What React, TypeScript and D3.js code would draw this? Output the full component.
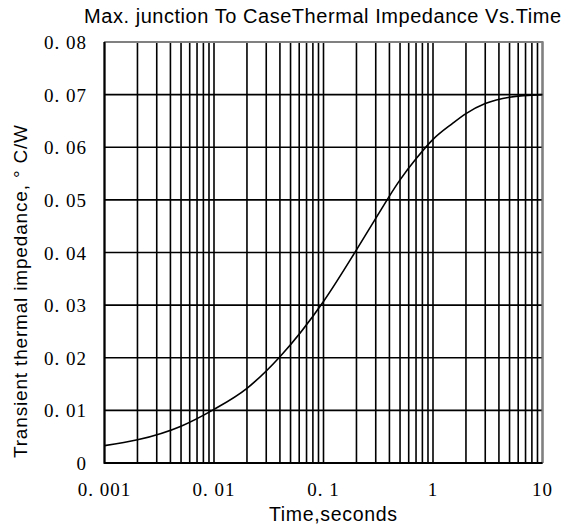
import React, { useRef, useEffect } from "react";
import * as d3 from "d3";

// curve: time (s) vs impedance (°C/W)
const times = [0.001, 0.002, 0.005, 0.01, 0.02, 0.04, 0.1, 0.2, 0.3, 0.5, 0.7, 1, 1.5, 2, 3, 5, 10];
const impedance = [0.0033, 0.0044, 0.007, 0.0102, 0.0142, 0.0202, 0.0307, 0.0405, 0.0465, 0.0538, 0.0578, 0.0615, 0.0645, 0.0664, 0.0683, 0.0695, 0.07];

const xTicks = [0.001, 0.01, 0.1, 1, 10];
const xTickLabels = ["0. 001", "0. 01", "0. 1", "1", "10"];
const yTicks = [0, 0.01, 0.02, 0.03, 0.04, 0.05, 0.06, 0.07, 0.08];
const yTickLabels = ["0", "0. 01", "0. 02", "0. 03", "0. 04", "0. 05", "0. 06", "0. 07", "0. 08"];

const App = () => {
  const svgRef = useRef(null);

  useEffect(() => {
    const svg = d3.select(svgRef.current);
    svg.selectAll("*").remove();

    const width = 564;
    const height = 532;
    const margin = { top: 42, right: 21.5, bottom: 69, left: 104.5 };

    const x = d3.scaleLog().domain([0.001, 10]).range([margin.left, width - margin.right]);
    const y = d3.scaleLinear().domain([0, 0.08]).range([height - margin.bottom, margin.top]);

    // vertical grid: 1..9 in each decade
    const vLines = [];
    for (let e = -3; e < 1; e++) {
      for (let k = 1; k < 10; k++) vLines.push(k * Math.pow(10, e));
    }
    vLines.push(10);

    const grid = svg.append("g").attr("stroke", "#000").attr("stroke-width", 1.6);
    grid
      .selectAll("line.v")
      .data(vLines)
      .enter()
      .append("line")
      .attr("x1", (d) => x(d))
      .attr("x2", (d) => x(d))
      .attr("y1", y(0))
      .attr("y2", y(0.08));
    grid
      .selectAll("line.h")
      .data(yTicks)
      .enter()
      .append("line")
      .attr("x1", x(0.001))
      .attr("x2", x(10))
      .attr("y1", (d) => y(d))
      .attr("y2", (d) => y(d));

    // frame: top and right grey, left and bottom black
    svg
      .append("path")
      .attr("d", `M${x(0.001)},${y(0.08)}H${x(10)}V${y(0)}`)
      .attr("fill", "none")
      .attr("stroke", "#808080")
      .attr("stroke-width", 2);
    svg
      .append("path")
      .attr("d", `M${x(0.001)},${y(0.08)}V${y(0)}H${x(10)}`)
      .attr("fill", "none")
      .attr("stroke", "#000")
      .attr("stroke-width", 2);

    // curve
    const pts = times.map((t, i) => [t, impedance[i]]);
    const line = d3
      .line()
      .x((d) => x(d[0]))
      .y((d) => y(d[1]))
      .curve(d3.curveMonotoneX);
    svg
      .append("path")
      .datum(pts)
      .attr("d", line)
      .attr("fill", "none")
      .attr("stroke", "#000")
      .attr("stroke-width", 1.6);

    const serif = "'Liberation Serif', 'DejaVu Serif', serif";
    const sans = "'Liberation Sans', Arial, sans-serif";

    svg
      .append("g")
      .selectAll("text")
      .data(yTicks)
      .enter()
      .append("text")
      .attr("x", 87)
      .attr("y", (d) => y(d) + 7)
      .attr("text-anchor", "end")
      .attr("font-family", serif)
      .attr("font-size", 19)
      .attr("letter-spacing", 1)
      .text((d, i) => yTickLabels[i]);

    svg
      .append("g")
      .selectAll("text")
      .data(xTicks)
      .enter()
      .append("text")
      .attr("x", (d) => x(d))
      .attr("y", 496)
      .attr("text-anchor", "middle")
      .attr("font-family", serif)
      .attr("font-size", 19)
      .attr("letter-spacing", 1)
      .text((d, i) => xTickLabels[i]);

    svg
      .append("text")
      .attr("x", 322.5)
      .attr("y", 22.5)
      .attr("text-anchor", "middle")
      .attr("font-family", sans)
      .attr("font-size", 20)
      .attr("textLength", 477)
      .attr("lengthAdjust", "spacing")
      .text("Max. junction To CaseThermal Impedance Vs.Time");

    svg
      .append("text")
      .attr("x", 333)
      .attr("y", 521)
      .attr("text-anchor", "middle")
      .attr("font-family", sans)
      .attr("font-size", 19.5)
      .attr("textLength", 128)
      .attr("lengthAdjust", "spacing")
      .text("Time,seconds");

    svg
      .append("text")
      .attr("transform", "rotate(-90)")
      .attr("x", -291.5)
      .attr("y", 27)
      .attr("text-anchor", "middle")
      .attr("font-family", sans)
      .attr("font-size", 19)
      .attr("textLength", 333)
      .attr("lengthAdjust", "spacing")
      .text("Transient thermal impedance, ° C/W");
  }, []);

  return (
    <svg
      ref={svgRef}
      width={564}
      height={532}
      style={{ position: "absolute", left: 0, top: 0, background: "#fff" }}
    ></svg>
  );
};

export default App;
